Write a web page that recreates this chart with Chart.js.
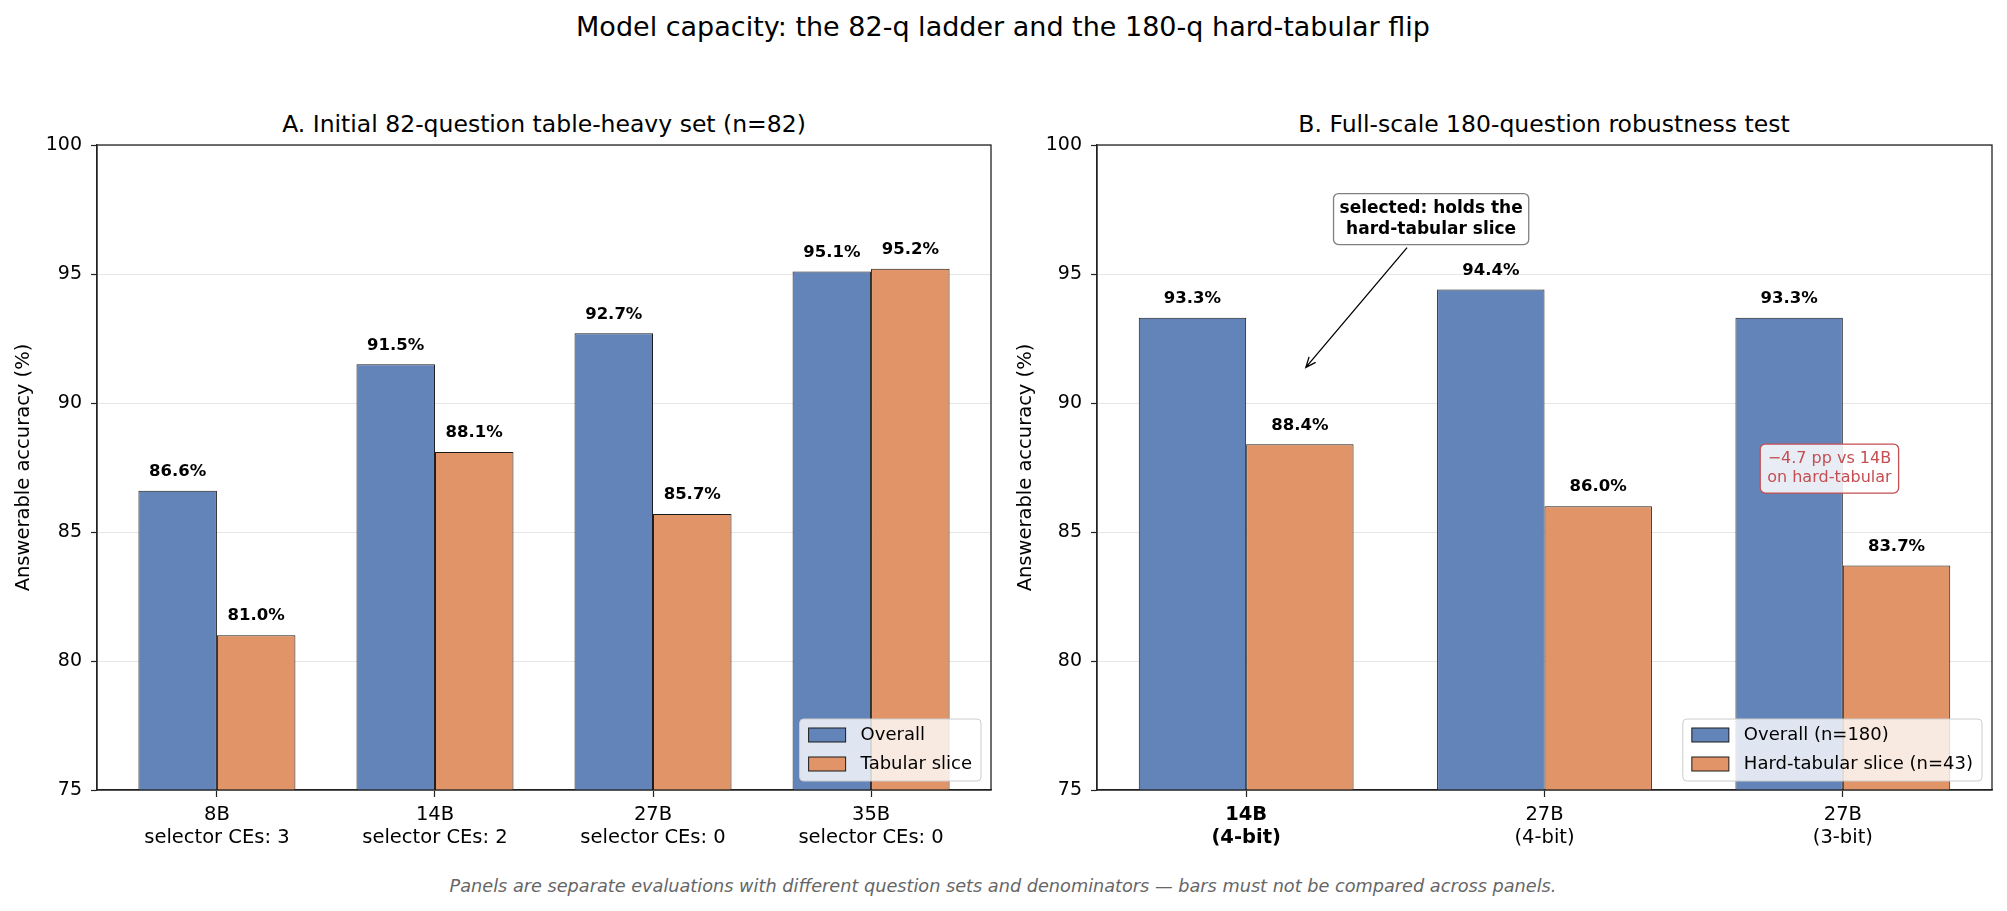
<!DOCTYPE html>
<html>
<head>
    <title>Model capacity</title>
    <script src="https://cdn.jsdelivr.net/npm/chart.js@4.4.1/dist/chart.umd.min.js"></script>
    <style>
        body {
            margin: 0;
            background: #fff;
            font-family: "DejaVu Sans", sans-serif;
        }

        #page {
            position: relative;
            width: 2007px;
            height: 911px;
            overflow: hidden;
        }

        .txt {
            position: absolute;
            white-space: nowrap;
            transform: translate(-50%, -50%);
            color: #000;
        }

        #suptitle { left: 1003px; top: 26px; font-size: 27px; }
        #titleA { left: 544px; top: 124px; font-size: 23.5px; }
        #titleB { left: 1544px; top: 124px; font-size: 23.5px; }
        #footnote { left: 1003px; top: 886px; font-size: 17.7px; font-style: italic; color: #666; }

        canvas { position: absolute; top: 0; }
        #chartA { left: 0; }
        #chartB { left: 1005px; }
    </style>
</head>
<body>
<div id="page">
    <div class="txt" id="suptitle">Model capacity: the 82-q ladder and the 180-q hard-tabular flip</div>
    <div class="txt" id="titleA">A. Initial 82-question table-heavy set (n=82)</div>
    <div class="txt" id="titleB">B. Full-scale 180-question robustness test</div>
    <canvas id="chartA" width="1005" height="870"></canvas>
    <canvas id="chartB" width="1002" height="870"></canvas>
    <div class="txt" id="footnote">Panels are separate evaluations with different question sets and denominators — bars must not be compared across panels.</div>
</div>

<script>
    // panel A data
    const panelACategories = [['8B', 'selector CEs: 3'], ['14B', 'selector CEs: 2'], ['27B', 'selector CEs: 0'], ['35B', 'selector CEs: 0']];
    const panelAOverall = [86.6, 91.5, 92.7, 95.1];
    const panelATabular = [81.0, 88.1, 85.7, 95.2];
    const panelALegend = ['Overall', 'Tabular slice'];

    // panel B data
    const panelBCategories = [['14B', '(4-bit)'], ['27B', '(4-bit)'], ['27B', '(3-bit)']];
    const panelBOverall = [93.3, 94.4, 93.3];
    const panelBHardTabular = [88.4, 86.0, 83.7];
    const panelBLegend = ['Overall (n=180)', 'Hard-tabular slice (n=43)'];

    const yTicks = [75, 80, 85, 90, 95, 100];

    const BLUE = '#6384b9';
    const ORANGE = '#e19468';
    const FONT = '"DejaVu Sans", sans-serif';

    Chart.defaults.font.family = FONT;
    Chart.defaults.color = '#000';

    function toPoints(values) {
        return values.map((v, i) => ({ x: i, y: v }));
    }

    // bar value labels, frame, legend, notes
    function extrasPlugin(legendLabels, drawNotes) {
        return {
            id: 'extras',
            afterDatasetsDraw(chart) {
                const ctx = chart.ctx;
                const area = chart.chartArea;

                ctx.save();
                ctx.font = 'bold 16.5px ' + FONT;
                ctx.fillStyle = '#000';
                ctx.textAlign = 'center';
                ctx.textBaseline = 'middle';
                chart.data.datasets.forEach((ds, di) => {
                    chart.getDatasetMeta(di).data.forEach((bar, i) => {
                        ctx.fillText(ds.data[i].y.toFixed(1) + '%', bar.x, bar.y - 19);
                    });
                });
                ctx.restore();

                // full frame
                ctx.save();
                ctx.strokeStyle = '#222';
                ctx.lineWidth = 1.3;
                ctx.strokeRect(area.left, area.top, area.right - area.left, area.bottom - area.top);
                ctx.restore();

                if (drawNotes) drawNotes(chart);

                // legend, lower right
                ctx.save();
                ctx.font = '18px ' + FONT;
                const textW = Math.max(...legendLabels.map(l => ctx.measureText(l).width));
                const boxW = 9 + 37 + 15 + textW + 9;
                const boxH = 62;
                const bx = area.right - 10 - boxW;
                const by = area.bottom - 9 - boxH;
                ctx.beginPath();
                ctx.roundRect(bx, by, boxW, boxH, 4);
                ctx.fillStyle = 'rgba(255,255,255,0.8)';
                ctx.fill();
                ctx.strokeStyle = '#cccccc';
                ctx.lineWidth = 1;
                ctx.stroke();
                const colors = [BLUE, ORANGE];
                legendLabels.forEach((label, i) => {
                    const cy = by + 16 + i * 29;
                    ctx.fillStyle = colors[i];
                    ctx.fillRect(bx + 9, cy - 7, 37, 14);
                    ctx.strokeStyle = '#1a1a1a';
                    ctx.strokeRect(bx + 9, cy - 7, 37, 14);
                    ctx.fillStyle = '#000';
                    ctx.textAlign = 'left';
                    ctx.textBaseline = 'middle';
                    ctx.fillText(label, bx + 9 + 37 + 15, cy);
                });
                ctx.restore();
            }
        };
    }

    function drawBox(ctx, cx, cy, lines, font, lineH, pad, color, fill, edge) {
        ctx.font = font;
        const w = Math.max(...lines.map(l => ctx.measureText(l).width)) + pad * 2;
        const h = lines.length * lineH + pad * 2 - 4;
        const x = cx - w / 2, y = cy - h / 2;
        ctx.beginPath();
        ctx.roundRect(x, y, w, h, 5);
        ctx.fillStyle = fill;
        ctx.fill();
        ctx.strokeStyle = edge;
        ctx.lineWidth = 1.3;
        ctx.stroke();
        ctx.fillStyle = color;
        ctx.textAlign = 'center';
        ctx.textBaseline = 'middle';
        lines.forEach((l, i) => {
            ctx.fillText(l, cx, cy + (i - (lines.length - 1) / 2) * lineH);
        });
        return { x, y, w, h };
    }

    const selectedNote = { text: ['selected: holds the', 'hard-tabular slice'], at: [0.62, 97.13], target: [0.2, 91.38] };
    const dropNote = { text: ['\u22124.7 pp vs 14B', 'on hard-tabular'], at: [1.955, 87.46] };

    function drawPanelBNotes(chart) {
        const ctx = chart.ctx;
        const xs = chart.scales.x, ys = chart.scales.y;
        ctx.save();

        const cx = xs.getPixelForValue(selectedNote.at[0]);
        const cy = ys.getPixelForValue(selectedNote.at[1]);
        const tx = xs.getPixelForValue(selectedNote.target[0]);
        const ty = ys.getPixelForValue(selectedNote.target[1]);
        const box = drawBox(ctx, cx, cy, selectedNote.text, 'bold 17px ' + FONT, 21.5, 6, '#000', '#fff', '#808080');

        // arrow from box bottom edge to target
        const bottom = box.y + box.h + 3;
        const t = (bottom - cy) / (ty - cy);
        const sx = cx + (tx - cx) * t;
        ctx.strokeStyle = '#000';
        ctx.lineWidth = 1.3;
        ctx.beginPath();
        ctx.moveTo(sx, bottom);
        ctx.lineTo(tx, ty);
        const ang = Math.atan2(ty - bottom, tx - sx);
        const hl = 11, hw = 0.4;
        ctx.moveTo(tx - hl * Math.cos(ang - hw), ty - hl * Math.sin(ang - hw));
        ctx.lineTo(tx, ty);
        ctx.lineTo(tx - hl * Math.cos(ang + hw), ty - hl * Math.sin(ang + hw));
        ctx.stroke();

        const rx = xs.getPixelForValue(dropNote.at[0]);
        const ry = ys.getPixelForValue(dropNote.at[1]);
        drawBox(ctx, rx, ry, dropNote.text, '16px ' + FONT, 19.5, 7, '#c44e52', 'rgba(255,255,255,0.85)', '#c44e52');
        ctx.restore();
    }

    function makePanel(id, cats, overall, slice, legendLabels, xMin, xMax, barPct, yWidth, yTitlePad, boldFirst, rightPad, notes) {
        return new Chart(document.getElementById(id), {
            type: 'bar',
            data: {
                datasets: [{
                    label: legendLabels[0],
                    data: toPoints(overall),
                    backgroundColor: BLUE,
                    borderColor: '#1a1a1a',
                    borderWidth: 1
                }, {
                    label: legendLabels[1],
                    data: toPoints(slice),
                    backgroundColor: ORANGE,
                    borderColor: '#1a1a1a',
                    borderWidth: 1
                }]
            },
            options: {
                responsive: false,
                animation: false,
                devicePixelRatio: 1,
                layout: { padding: { top: 145, right: rightPad, left: 0, bottom: 0 } },
                plugins: {
                    legend: { display: false },
                    tooltip: { enabled: false }
                },
                datasets: { bar: { categoryPercentage: barPct, barPercentage: 1 } },
                scales: {
                    x: {
                        type: 'linear',
                        min: xMin,
                        max: xMax,
                        offset: false,
                        afterBuildTicks: (scale) => { scale.ticks = cats.map((c, i) => ({ value: i })); },
                        afterFit: (scale) => { scale.height = 80; },
                        grid: { offset: false, drawOnChartArea: false, drawTicks: true, tickLength: 7, tickColor: '#222', tickWidth: 1.2 },
                        border: { display: true, color: '#222', width: 1.3 },
                        ticks: {
                            autoSkip: false,
                            maxRotation: 0,
                            padding: 6,
                            color: '#000',
                            callback: (value) => cats[value],
                            font: (c) => ({
                                family: FONT,
                                size: 19.5,
                                lineHeight: 1.18,
                                weight: (boldFirst && c.index === 0) ? 'bold' : 'normal'
                            })
                        }
                    },
                    y: {
                        min: 75,
                        max: 100,
                        afterBuildTicks: (scale) => { scale.ticks = yTicks.map(v => ({ value: v })); },
                        afterFit: (scale) => { scale.width = yWidth; },
                        grid: { color: '#e6e6e6', lineWidth: 1, tickLength: 6, tickColor: '#222', tickWidth: 1.2 },
                        border: { display: true, color: '#222', width: 1.3 },
                        ticks: { padding: 9, color: '#000', font: { family: FONT, size: 19 } },
                        title: {
                            display: true,
                            text: 'Answerable accuracy (%)',
                            color: '#000',
                            font: { family: FONT, size: 19.5, lineHeight: 1.2 },
                            padding: { top: yTitlePad, bottom: 0 }
                        }
                    }
                }
            },
            plugins: [extrasPlugin(legendLabels, notes)]
        });
    }

    makePanel('chartA', panelACategories, panelAOverall, panelATabular, panelALegend,
        -0.55, 3.55, 0.72, 97, 12, false, 14, null);
    makePanel('chartB', panelBCategories, panelBOverall, panelBHardTabular, panelBLegend,
        -0.5, 2.5, 0.72, 92, 9, true, 15, drawPanelBNotes);
</script>
</body>
</html>
